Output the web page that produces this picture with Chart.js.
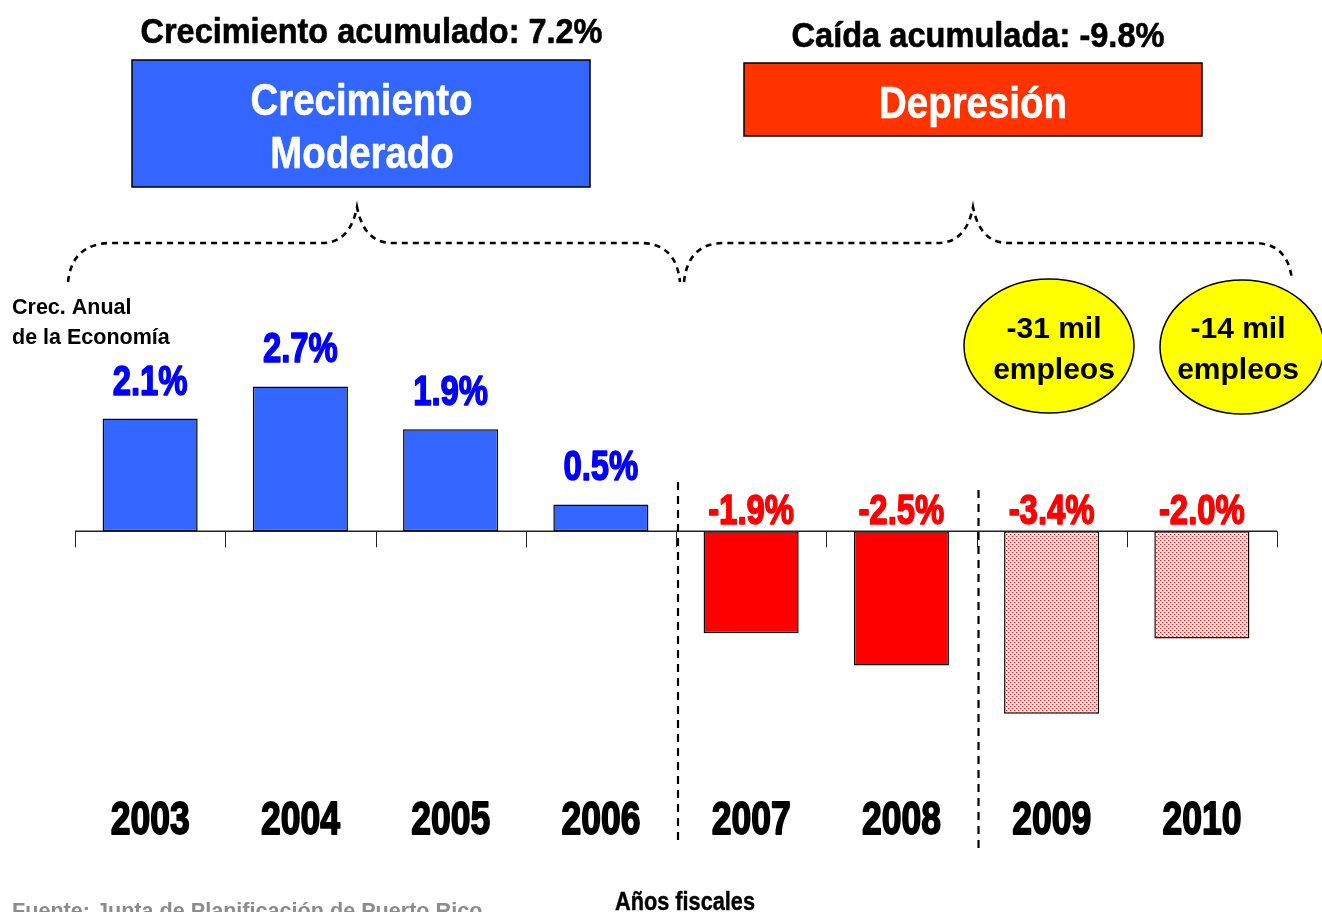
<!DOCTYPE html>
<html>
<head>
<meta charset="utf-8">
<script src="https://cdn.jsdelivr.net/npm/chart.js@4.4.1/dist/chart.umd.min.js"></script>
<style>
  html, body { margin: 0; padding: 0; background: #ffffff; }
  canvas { display: block; }
</style>
</head>
<body>
<canvas id="c" width="1322" height="912"></canvas>
<script>
// ---- data ----
const years = ['2003', '2004', '2005', '2006', '2007', '2008', '2009', '2010'];
const growth = [2.1, 2.7, 1.9, 0.5, -1.9, -2.5, -3.4, -2.0];
const projected = [false, false, false, false, false, false, true, true];
const jobYears = ['2009', '2010'];
const jobLabels = [['-31 mil', 'empleos'], ['-14 mil', 'empleos']];
const phaseTitles = ['Crecimiento acumulado: 7.2%', 'Caída acumulada: -9.8%'];
const phaseNames = [['Crecimiento', 'Moderado'], ['Depresión']];

const SANS = "'Liberation Sans', Arial, sans-serif";

function makePattern() {
  const t = document.createElement('canvas');
  t.width = 4; t.height = 4;
  const g = t.getContext('2d');
  g.fillStyle = '#fff6f6';
  g.fillRect(0, 0, 4, 4);
  g.fillStyle = 'rgba(255,60,60,0.55)';
  g.fillRect(0, 0, 2, 1);
  g.fillRect(2, 2, 2, 1);
  g.fillStyle = '#ff1a1a';
  g.fillRect(0, 0, 1, 1);
  g.fillRect(2, 2, 1, 1);
  return document.getElementById('c').getContext('2d').createPattern(t, 'repeat');
}
const dotPattern = makePattern();
const fills = growth.map((v, i) => projected[i] ? dotPattern : (v >= 0 ? '#3366FF' : '#FF0000'));

// draw text squeezed horizontally (sx) around its anchor, optional extra weight
function sqText(ctx, text, x, y, sx, align, weight) {
  ctx.save();
  ctx.translate(x, y);
  ctx.scale(sx, 1);
  ctx.textAlign = align || 'center';
  ctx.fillText(text, 0, 0);
  if (weight) {
    ctx.strokeStyle = ctx.fillStyle;
    ctx.lineWidth = weight;
    ctx.lineJoin = 'round';
    ctx.strokeText(text, 0, 0);
  }
  ctx.restore();
}
function fitScale(ctx, font, sample, target) {
  ctx.save();
  ctx.font = font;
  const w = ctx.measureText(sample).width;
  ctx.restore();
  return Math.min(1, target / w);
}

const deco = {
  id: 'deco',
  beforeDraw(chart) {
    const ctx = chart.ctx;
    ctx.save();
    ctx.fillStyle = '#ffffff';
    ctx.fillRect(0, 0, chart.width, chart.height);
    ctx.restore();
  },
  afterDatasetsDraw(chart) {
    const ctx = chart.ctx;
    const x = chart.scales.x, y = chart.scales.y;
    const y0 = y.getPixelForValue(0);
    const step = x.getPixelForValue(1) - x.getPixelForValue(0);
    const left = x.getPixelForValue(0) - step / 2;
    const right = x.getPixelForValue(years.length - 1) + step / 2;
    ctx.save();
    // zero axis and category ticks
    ctx.strokeStyle = '#222';
    ctx.lineWidth = 1.5;
    ctx.beginPath();
    ctx.moveTo(left, y0); ctx.lineTo(right, y0);
    ctx.stroke();
    ctx.lineWidth = 1;
    for (let i = 0; i <= years.length; i++) {
      const px = Math.round(left + i * step) + 0.5;
      ctx.beginPath();
      ctx.moveTo(px, y0); ctx.lineTo(px, y0 + 16);
      ctx.stroke();
    }
    // value labels
    const meta = chart.getDatasetMeta(0);
    const vFont = 'bold 43px ' + SANS;
    const vsx = fitScale(ctx, vFont, '2.1%', 75);
    ctx.font = vFont;
    ctx.textBaseline = 'alphabetic';
    meta.data.forEach((bar, i) => {
      const v = growth[i];
      ctx.fillStyle = v >= 0 ? '#0000FF' : '#FF0000';
      const by = v >= 0 ? bar.y - 24 : y0 - 7;
      sqText(ctx, v.toFixed(1) + '%', bar.x, by, vsx, 'center', 1.6);
    });
    // year labels (category axis labels)
    const yFont = 'bold 46px ' + SANS;
    const ysx = fitScale(ctx, yFont, '2003', 79);
    ctx.font = yFont;
    ctx.fillStyle = '#000';
    x.ticks.forEach((t) => {
      sqText(ctx, x.getLabelForValue(t.value), x.getPixelForValue(t.value), 834, ysx, 'center', 1.8);
    });
    // dashed separators
    ctx.strokeStyle = '#000';
    ctx.lineWidth = 2.2;
    ctx.setLineDash([8, 6]);
    const sep1 = (x.getPixelForValue(3) + x.getPixelForValue(4)) / 2 + 2;
    const sep2 = (x.getPixelForValue(5) + x.getPixelForValue(6)) / 2 + 2;
    ctx.beginPath(); ctx.moveTo(sep1, 482); ctx.lineTo(sep1, 846); ctx.stroke();
    ctx.beginPath(); ctx.moveTo(sep2, 490); ctx.lineTo(sep2, 851); ctx.stroke();
    ctx.restore();
  },
  afterDraw(chart) {
    const ctx = chart.ctx;
    ctx.save();
    ctx.textBaseline = 'alphabetic';
    // phase titles
    ctx.fillStyle = '#000';
    let f = 'bold 35px ' + SANS;
    ctx.font = f;
    sqText(ctx, phaseTitles[0], 371.5, 43, fitScale(ctx, f, phaseTitles[0], 462), 'center', 0.6);
    sqText(ctx, phaseTitles[1], 978, 47, fitScale(ctx, f, phaseTitles[1], 373), 'center', 0.6);
    // boxes
    ctx.lineWidth = 1.5;
    ctx.strokeStyle = '#000';
    ctx.fillStyle = '#3366FF';
    ctx.fillRect(132, 60, 458, 127);
    ctx.strokeRect(132, 60, 458, 127);
    ctx.fillStyle = '#FF3300';
    ctx.fillRect(744, 63, 458, 73);
    ctx.strokeRect(744, 63, 458, 73);
    ctx.fillStyle = '#ffffff';
    f = 'bold 45px ' + SANS;
    ctx.font = f;
    const bsx = fitScale(ctx, f, phaseNames[0][0], 222);
    sqText(ctx, phaseNames[0][0], 361.5, 115, bsx, 'center', 0.6);
    sqText(ctx, phaseNames[0][1], 362, 168, bsx, 'center', 0.6);
    sqText(ctx, phaseNames[1][0], 973, 118, bsx, 'center', 0.6);
    // braces
    ctx.strokeStyle = '#000';
    ctx.lineWidth = 2.6;
    ctx.setLineDash([6, 5]);
    ctx.beginPath();
    ctx.moveTo(68, 282);
    ctx.quadraticCurveTo(72, 243, 112, 243);
    ctx.lineTo(322, 243);
    ctx.quadraticCurveTo(350, 243, 357, 207);
    ctx.quadraticCurveTo(364, 243, 392, 243);
    ctx.lineTo(640, 243);
    ctx.quadraticCurveTo(676, 243, 680, 282);
    ctx.stroke();
    ctx.beginPath();
    ctx.moveTo(684, 282);
    ctx.quadraticCurveTo(688, 243, 724, 243);
    ctx.lineTo(938, 243);
    ctx.quadraticCurveTo(966, 243, 973, 207);
    ctx.quadraticCurveTo(980, 243, 1008, 243);
    ctx.lineTo(1254, 243);
    ctx.quadraticCurveTo(1288, 243, 1292, 280);
    ctx.stroke();
    ctx.setLineDash([]);
    // job ellipses
    const ell = [[1049, 346, 85, 67, 1054], [1242, 347, 82, 67, 1238]];
    jobYears.forEach((yr, k) => {
      const [cx, cy, rx, ry, tx] = ell[k];
      ctx.beginPath();
      ctx.ellipse(cx, cy, rx, ry, 0, 0, Math.PI * 2);
      ctx.fillStyle = '#FFFF00';
      ctx.fill();
      ctx.lineWidth = 1.5;
      ctx.strokeStyle = '#000';
      ctx.stroke();
      ctx.fillStyle = '#000';
      ctx.textAlign = 'center';
      ctx.font = 'bold 30px ' + SANS;
      ctx.fillText(jobLabels[k][0], tx, 338);
      ctx.fillText(jobLabels[k][1], tx, 379);
    });
    // y-axis caption
    ctx.textAlign = 'left';
    ctx.font = 'bold 21.5px ' + SANS;
    ctx.fillText('Crec. Anual', 12, 314);
    ctx.fillText('de la Economía', 12, 344);
    // footer
    f = 'bold 25px ' + SANS;
    ctx.font = f;
    sqText(ctx, 'Años fiscales', 685, 910, fitScale(ctx, f, 'Años fiscales', 140), 'center', 0.4);
    ctx.textAlign = 'left';
    ctx.fillStyle = '#8c8c8c';
    ctx.font = 'bold 21.6px ' + SANS;
    ctx.fillText('Fuente: Junta de Planificación de Puerto Rico', 12, 918);
    ctx.restore();
  }
};

new Chart(document.getElementById('c'), {
  type: 'bar',
  data: {
    labels: years,
    datasets: [{
      data: growth,
      backgroundColor: fills,
      borderColor: '#000',
      borderWidth: 1.5,
      borderSkipped: false,
      categoryPercentage: 1,
      barPercentage: 0.633
    }]
  },
  options: {
    responsive: false,
    animation: false,
    events: [],
    layout: { padding: { left: 75, right: 45, top: 263, bottom: 123.2 } },
    plugins: { legend: { display: false }, tooltip: { enabled: false } },
    scales: {
      x: { display: false },
      y: { display: false, min: -4.8, max: 5 }
    }
  },
  plugins: [deco]
});
</script>
</body>
</html>
